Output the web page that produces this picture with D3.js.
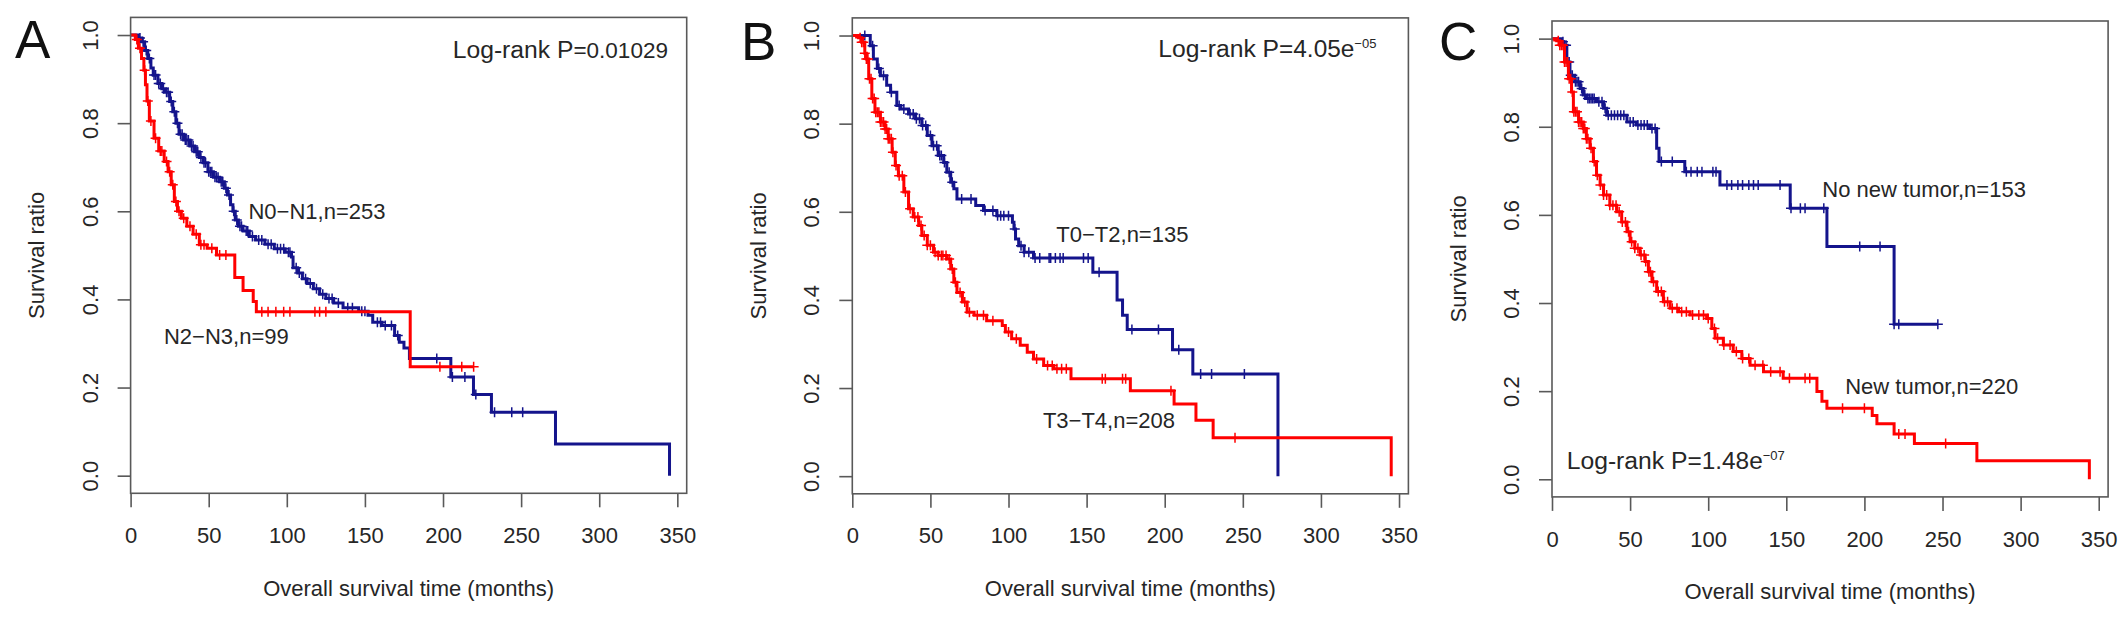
<!DOCTYPE html>
<html><head><meta charset="utf-8">
<script src="https://cdn.jsdelivr.net/npm/d3@7"></script>
<style>
html,body{margin:0;padding:0;background:#fff;}
svg{display:block;}
text{font-family:"Liberation Sans",Arial,Helvetica,sans-serif;}
</style></head><body>
<svg id="chart" width="2126" height="619"></svg>
<script>
// ---------------- DATA ----------------
const xTickValues = [0, 50, 100, 150, 200, 250, 300, 350];
const yTickValues = [0, 0.2, 0.4, 0.6, 0.8, 1.0];
const panelLetters = ["A", "B", "C"];
const xTitle = "Overall survival time (months)";
const yTitle = "Survival ratio";

const groupLabelsA = ["N0\u2212N1,n=253", "N2\u2212N3,n=99"];
const groupLabelsB = ["T0\u2212T2,n=135", "T3\u2212T4,n=208"];
const groupLabelsC = ["No new tumor,n=153", "New tumor,n=220"];
const pTextA = ["Log-rank P", "=0.01029", ""];
const pTextB = ["Log-rank P", "=4.05e", "\u221205"];
const pTextC = ["Log-rank P", "=1.48e", "\u221207"];

// Panel A: N0-N1 (blue)
const aBlueTimes = [5,7,9,11,13,14.5,17.5,20,22,25,27,29,31,34,38,41,44,46.5,49.5,53,57,60,62,64,65.5,67,69,72,76,80,86,92,99,103,104,107,110,113,117,121,125,130,136,146,152,155,161,169,172,175,178.5,205,219.5,231,272,345];
const aBlueSurv  = [0.993,0.985,0.965,0.947,0.925,0.909,0.89,0.878,0.87,0.849,0.826,0.8,0.775,0.762,0.748,0.735,0.722,0.71,0.69,0.677,0.667,0.652,0.637,0.615,0.6,0.58,0.566,0.555,0.543,0.535,0.525,0.515,0.507,0.496,0.472,0.46,0.447,0.436,0.424,0.412,0.402,0.392,0.381,0.373,0.364,0.348,0.341,0.318,0.303,0.29,0.266,0.224,0.184,0.144,0.072,0];
const aBlueEnd = 345;
const aBlueCensor = [6,8,10,12,15,16,18,19,21,23,24,26,28,30,32,33,35,36,37,39,40,42,43,45,47,48,50,51,52,54,55,56,58,59,61,63,66,68,70,71,74,75,78,82,84,88,90,94,96,98,101,102,106,108,112,115,119,123,127,129,133,139,142,148,150,158,160,163,167,171,196,206,214,221,233,244,251];
// Panel A: N2-N3 (red)
const aRedTimes = [3,5,7,8.5,9.5,10.5,12,15,18,21.5,24,26,28,30,32.5,36,40,44,49,55,66.7,72,78.5,80.5,179];
const aRedSurv  = [0.99,0.97,0.947,0.92,0.887,0.85,0.805,0.766,0.737,0.713,0.69,0.66,0.622,0.6,0.584,0.566,0.548,0.524,0.516,0.501,0.45,0.42,0.395,0.372,0.247];
const aRedEnd = 219.6;
const aRedCensor = [4,6,9,11,13,16,19,20,23,25,27,29,31,34,38,42,45,47,52,57,61,84,88,93,98,102,118,121,125,198,212,219.6];

// Panel B: T0-T2 (blue)
const bBlueTimes = [11.5,13.5,16,18,22,24.5,28.5,31,36,40.5,44.5,48,51,55,58.5,60.5,63,65,67,79,84,92.5,102.5,103.5,104.5,106.5,110,116,154,169.5,173,176,205,218,272.5];
const bBlueSurv  = [0.977,0.947,0.925,0.909,0.887,0.871,0.841,0.833,0.822,0.811,0.796,0.773,0.75,0.728,0.712,0.69,0.667,0.652,0.629,0.614,0.603,0.591,0.576,0.561,0.538,0.523,0.508,0.495,0.463,0.4,0.365,0.333,0.287,0.232,0];
const bBlueEnd = 272.5;
const bBlueCensor = [8,13,17,20,25,30,33,37,39,41,43,45,47,50,52,54,56,57,59,62,64,70,76,85,90,93,95,97,100,104,108,110,113,117,120,126,127,130,133,135,148,151,158,179,196,209,223,230,251];
// Panel B: T3-T4 (red)
const bRedTimes = [4,6,8,9,10.5,12.5,14.5,18,21,23,25.5,27.5,29.5,33,36,39,42.5,44.5,48,52,55,60.5,63,65,67,70.5,73.5,78,86,96,98,102,107.5,112,116,122.5,129,140,178,206,220,231,345];
const bRedSurv  = [0.995,0.985,0.96,0.947,0.902,0.857,0.826,0.804,0.788,0.766,0.735,0.705,0.682,0.645,0.607,0.588,0.569,0.546,0.524,0.508,0.501,0.493,0.47,0.44,0.417,0.395,0.372,0.365,0.353,0.342,0.327,0.312,0.297,0.281,0.266,0.251,0.244,0.221,0.194,0.164,0.127,0.087,0];
const bRedEnd = 345;
const bRedCensor = [5,6,7,8,9,10,11,12,13,14,15,16,17,18,19,20,21,22,23,24,25,26,28,30,32,34,37,40,42,44,46,48,50,53,55,57,58,60,62,64,66,69,72,75,80,84,90,100,105,118,125,128,131,134,137,160,162,173,175,204,245];

// Panel C: No new tumor (blue)
const cBlueTimes = [6,7.5,9.5,11.5,14.5,18,20,22,28.5,33,35,48,54,62.5,67,68.5,85,107.5,152.5,176,219];
const cBlueSurv  = [0.993,0.985,0.947,0.917,0.902,0.887,0.872,0.864,0.857,0.842,0.826,0.811,0.804,0.796,0.751,0.721,0.698,0.668,0.615,0.528,0.352];
const cBlueEnd = 247;
const cBlueCensor = [7,8,9,10,11,12,13,15,16,17,19,21,23,24,25,26,27,30,32,34,36,38,40,42,44,46,50,52,55,57,59,61,64,66,70,77,86,89,93,96,103,105,112,115,119,122,126,129,132,146,153,159,162,174,197,210,219,222,247];
// Panel C: New tumor (red)
const cRedTimes = [3,5,8,10.5,12.5,13.7,17,20,22,24.4,26.5,28.5,30.8,33,37,41.4,44.6,48,50,53,56.4,59.6,61.7,64,67,71.3,75.6,81,88.4,99,102.3,104.4,109.7,116,121.5,126.8,135.4,148,169.6,172.8,176,205,208,219,232,272,344];
const cRedSurv  = [0.995,0.985,0.947,0.909,0.879,0.834,0.811,0.796,0.773,0.751,0.721,0.69,0.668,0.645,0.622,0.607,0.584,0.562,0.539,0.524,0.509,0.494,0.471,0.448,0.426,0.403,0.388,0.38,0.373,0.365,0.342,0.32,0.305,0.29,0.274,0.259,0.244,0.229,0.199,0.177,0.161,0.145,0.126,0.103,0.081,0.042,0];
const cRedEnd = 344;
const cRedCensor = [4,5,6,7,8,9,10,11,12,13,14,15,16,17,18,19,20,21,22,23,25,27,29,31,33,35,37,39,41,43,45,47,49,51,53,55,57,59,60,62,63,65,68,70,72,74,77,80,83,86,90,94,97,100,104,106,110,114,118,122,126,130,135,140,146,152,162,165,186,200,222,226,252];

// ---------------- LAYOUT ----------------
const BLUE = "#14148c", RED = "#ff0000", INK = "#262626", FRAME = "#595959";
const boxW = 556.1, boxTop = 17.4, boxBottom = 493.3;
const panels = [
  { left: 130.6, dy: 0, letterX: 15, letterY: 58,
    curves: [
      {times: aBlueTimes, surv: aBlueSurv, end: aBlueEnd, censor: aBlueCensor, color: BLUE},
      {times: aRedTimes, surv: aRedSurv, end: aRedEnd, censor: aRedCensor, color: RED}],
    labels: [{text: groupLabelsA[0], t: 119.3, s: 0.599}, {text: groupLabelsA[1], t: 61.3, s: 0.315}],
    p: {parts: pTextA, x: 452.7, y: 58.3, size2: 22.5} },
  { left: 852.3, dy: 0.5, letterX: 741, letterY: 59.5,
    curves: [
      {times: bBlueTimes, surv: bBlueSurv, end: bBlueEnd, censor: bBlueCensor, color: BLUE},
      {times: bRedTimes, surv: bRedSurv, end: bRedEnd, censor: bRedCensor, color: RED}],
    labels: [{text: groupLabelsB[0], t: 172.9, s: 0.548}, {text: groupLabelsB[1], t: 164.3, s: 0.127}],
    p: {parts: pTextB, x: 1158.3, y: 57.3, size2: 24.4} },
  { left: 1552, dy: 3.6, letterX: 1439, letterY: 60,
    curves: [
      {times: cBlueTimes, surv: cBlueSurv, end: cBlueEnd, censor: cBlueCensor, color: BLUE},
      {times: cRedTimes, surv: cRedSurv, end: cRedEnd, censor: cRedCensor, color: RED}],
    labels: [{text: groupLabelsC[0], t: 238.2, s: 0.658}, {text: groupLabelsC[1], t: 243.1, s: 0.211}],
    p: {parts: pTextC, x: 1566.7, y: 469.3, size2: 24.4} }
];

const svg = d3.select("#chart");
svg.append("rect").attr("width", 2126).attr("height", 619).attr("fill", "#fff");

panels.forEach((P, i) => {
  const x = d3.scaleLinear().domain([0, 356]).range([P.left, P.left + boxW]);
  const y = d3.scaleLinear().domain([-0.04, 1.04]).range([boxBottom + P.dy, boxTop + P.dy]);
  const g = svg.append("g");

  // panel letter
  g.append("text").attr("x", P.letterX).attr("y", P.letterY)
    .attr("font-size", 53).attr("fill", "#111").text(panelLetters[i]);

  // curves
  P.curves.forEach(c => {
    const pts = [[0, 1]].concat(c.times.map((t, k) => [t, c.surv[k]]));
    const last = pts[pts.length - 1];
    if (c.end > last[0]) pts.push([c.end, last[1]]);
    const line = d3.line().x(d => x(d[0])).y(d => y(d[1])).curve(d3.curveStepAfter);
    g.append("path").attr("d", line(pts)).attr("fill", "none")
      .attr("stroke", c.color).attr("stroke-width", 3).attr("stroke-linejoin", "miter");
    const survAt = t => { const k = d3.bisectRight(c.times, t) - 1; return k >= 0 ? c.surv[k] : 1; };
    g.append("g").selectAll("path").data(c.censor).join("path")
      .attr("transform", t => `translate(${x(t)},${y(survAt(t))})`)
      .attr("d", "M-5,0H5M0,-5V5")
      .attr("stroke", c.color).attr("stroke-width", 1.5).attr("fill", "none");
  });

  // box
  g.append("rect").attr("x", x(0)).attr("y", y(1.04)).attr("width", x(356) - x(0))
    .attr("height", y(-0.04) - y(1.04)).attr("fill", "none").attr("stroke", FRAME).attr("stroke-width", 1.6);

  // x axis
  const xAxis = g.append("g").attr("transform", `translate(0,${y(-0.04)})`)
    .call(d3.axisBottom(x).tickValues(xTickValues).tickFormat(d3.format("d")).tickSize(14).tickSizeOuter(0).tickPadding(20));
  xAxis.select(".domain").remove();
  xAxis.selectAll(".tick line").attr("stroke", FRAME).attr("stroke-width", 1.6);
  xAxis.selectAll(".tick text").attr("font-size", 22).attr("fill", INK)
    .attr("font-family", '"Liberation Sans",Arial,sans-serif');

  // y axis
  const yAxis = g.append("g").attr("transform", `translate(${x(0)},0)`)
    .call(d3.axisLeft(y).tickValues(yTickValues).tickFormat(d3.format(".1f")).tickSize(13).tickSizeOuter(0));
  yAxis.select(".domain").remove();
  yAxis.selectAll(".tick line").attr("stroke", FRAME).attr("stroke-width", 1.6);
  yAxis.selectAll(".tick text").attr("font-size", 22).attr("fill", INK)
    .attr("font-family", '"Liberation Sans",Arial,sans-serif')
    .attr("x", null).attr("dy", null).attr("text-anchor", "middle")
    .attr("dominant-baseline", "central")
    .attr("transform", "translate(-40.6,0) rotate(-90)");

  // titles
  g.append("text").attr("x", x(0) + boxW / 2).attr("y", 588.3 + P.dy)
    .attr("text-anchor", "middle").attr("dominant-baseline", "central")
    .attr("font-size", 22).attr("fill", INK).text(xTitle);
  g.append("text")
    .attr("transform", `translate(${x(0) - 93.9},${(y(1.04) + y(-0.04)) / 2}) rotate(-90)`)
    .attr("text-anchor", "middle").attr("dominant-baseline", "central")
    .attr("font-size", 22).attr("fill", INK).text(yTitle);

  // group labels
  P.labels.forEach(l => {
    g.append("text").attr("x", x(l.t)).attr("y", y(l.s))
      .attr("text-anchor", "middle").attr("dominant-baseline", "central")
      .attr("font-size", 22).attr("fill", INK).text(l.text);
  });

  // log-rank text
  const pt = g.append("text").attr("x", P.p.x).attr("y", P.p.y).attr("fill", INK);
  pt.append("tspan").attr("font-size", 24.7).text(P.p.parts[0]);
  pt.append("tspan").attr("font-size", P.p.size2).text(P.p.parts[1]);
  if (P.p.parts[2]) pt.append("tspan").attr("font-size", 13).attr("dy", -9.5).text(P.p.parts[2]);
});
</script>
</body></html>
